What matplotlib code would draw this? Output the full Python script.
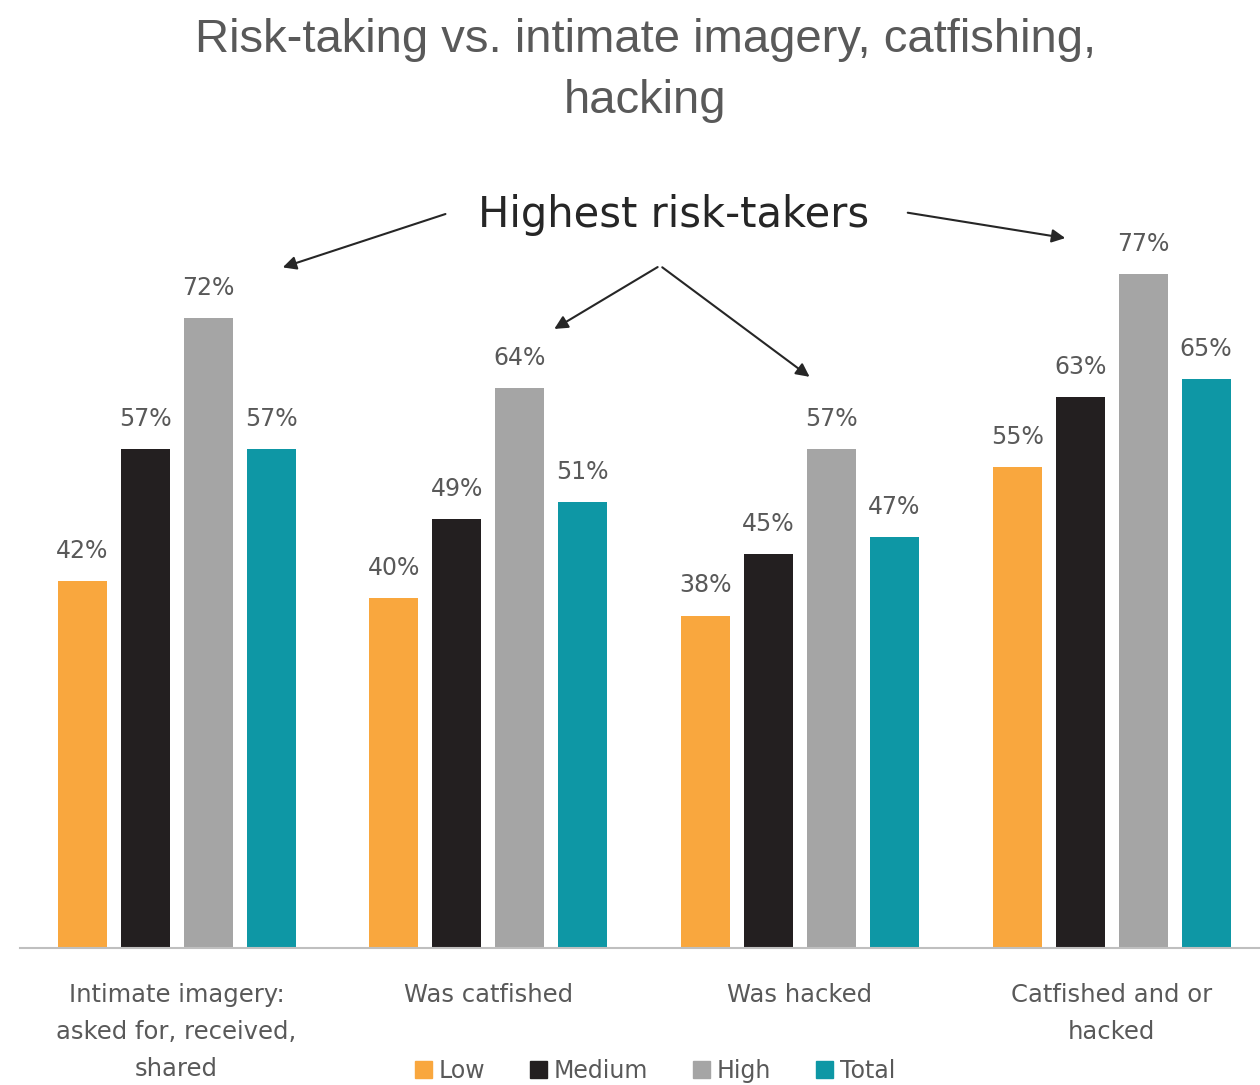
import matplotlib.pyplot as plt
import matplotlib
import numpy as np
from matplotlib.patches import Patch

matplotlib.rcParams['font.family'] = ['DejaVu Sans']

categories = ["Intimate imagery:\nasked for, received,\nshared", "Was catfished",
              "Was hacked", "Catfished and or\nhacked"]
series = ["Low", "Medium", "High", "Total"]
low = [42, 40, 38, 55]
medium = [57, 49, 45, 63]
high = [72, 64, 57, 77]
total = [57, 51, 47, 65]
colors = ["#F9A73E", "#231F20", "#A5A5A5", "#0E97A5"]
grey = "#595959"

fig = plt.figure(figsize=(12.6, 10.85), dpi=100)
ax = fig.add_axes([0.016, 0.1263, 0.984, 0.645])

x = np.arange(len(categories))
width = 0.157
step = 0.202
for i, (name, vals) in enumerate(zip(series, [low, medium, high, total])):
    bars = ax.bar(x + (i - 1.5) * step, vals, width, color=colors[i], label=name)
    ax.bar_label(bars, labels=[f"{v}%" for v in vals], padding=13,
                 fontsize=17, color=grey)

ax.set_xlim(-0.502, 3.476)
ax.set_ylim(0, 80)
ax.set_xticks(x)
ax.set_xticklabels(categories, fontsize=17.5, color=grey, linespacing=1.7)
ax.tick_params(axis='x', length=0, pad=25)
ax.set_yticks([])
for s in ["top", "right", "left"]:
    ax.spines[s].set_visible(False)
ax.spines["bottom"].set_color("#BFBFBF")
ax.spines["bottom"].set_linewidth(1.5)

# title
fig.text(0.512, 0.935, "Risk-taking vs. intimate imagery, catfishing,\nhacking",
         ha='center', va='center', fontsize=34, color=grey, linespacing=1.5,
         family=['Liberation Sans'])

# annotation
ax.text(1.593, 83.8, "Highest risk-takers", ha='center', va='center',
        fontsize=30, color="#262626", clip_on=False)
arrow = dict(arrowstyle='-|>', color="#262626", lw=1.5, mutation_scale=20)
ax.annotate("", xy=(0.332, 77.7), xytext=(0.871, 84.0), arrowprops=arrow, annotation_clip=False)
ax.annotate("", xy=(2.86, 81.1), xytext=(2.337, 84.1), arrowprops=arrow, annotation_clip=False)
ax.annotate("", xy=(1.204, 70.6), xytext=(1.551, 78.0), arrowprops=arrow, annotation_clip=False)
ax.annotate("", xy=(2.038, 65.1), xytext=(1.551, 78.0), arrowprops=arrow, annotation_clip=False)

handles = [Patch(color=c) for c in colors]
fig.legend(handles, series, loc='center', bbox_to_anchor=(0.52, 0.013), ncol=4,
           frameon=False, fontsize=17, labelcolor=grey, handlelength=0.7,
           handleheight=0.7, handletextpad=0.3, columnspacing=1.9)

plt.savefig("out.png", dpi=100, facecolor='white')
